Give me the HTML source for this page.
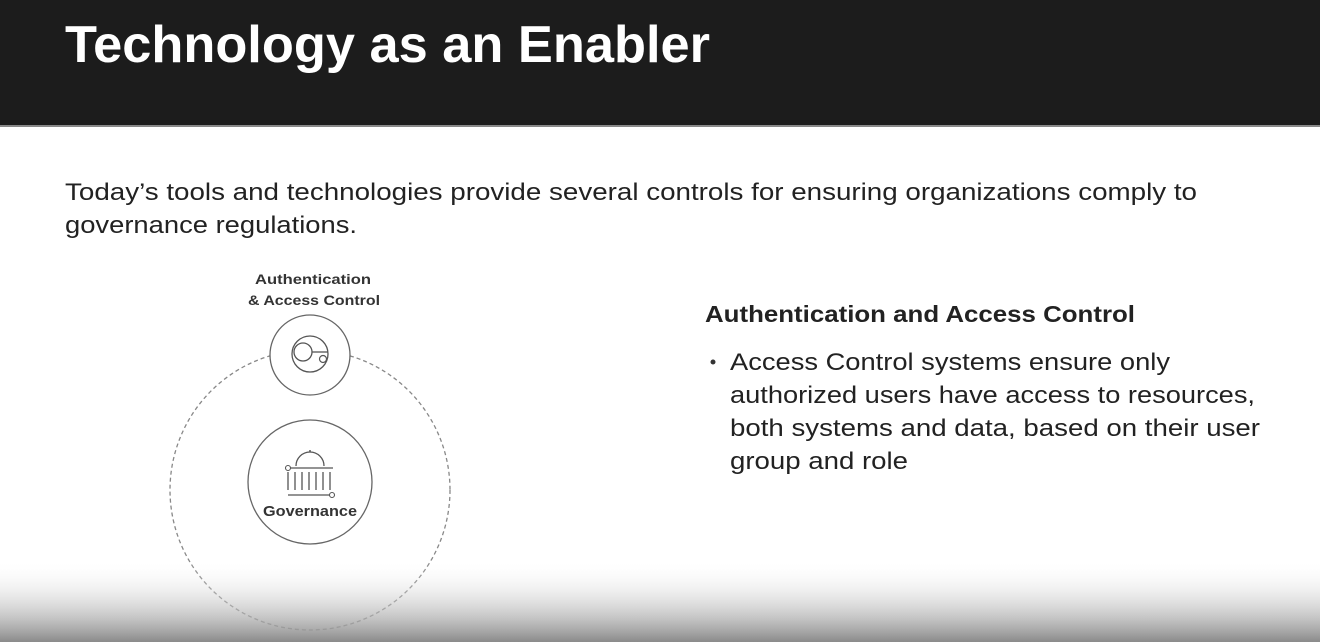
<!DOCTYPE html>
<html><head><style>
html,body{margin:0;padding:0;width:1320px;height:642px;overflow:hidden;background:#fff}
svg{display:block}
text{font-family:"Liberation Sans",sans-serif}
</style></head><body>
<svg width="1320" height="642" viewBox="0 0 1320 642" xmlns="http://www.w3.org/2000/svg">
<defs>
<linearGradient id="g" x1="0" y1="0" x2="0" y2="1">
<stop offset="0" stop-color="#fff" stop-opacity="0"/>
<stop offset="1" stop-color="#8a8a8a"/>
</linearGradient>
</defs>
<rect x="0" y="0" width="1320" height="125" fill="#1c1c1c"/>
<rect x="0" y="125" width="1320" height="2" fill="#888"/>
<text x="65" y="62" font-size="52" font-weight="bold" fill="#fff" textLength="645" lengthAdjust="spacingAndGlyphs">Technology as an Enabler</text>
<text x="65" y="200" font-size="24" fill="#222" textLength="1132" lengthAdjust="spacingAndGlyphs">Today’s tools and technologies provide several controls for ensuring organizations comply to</text>
<text x="65" y="233" font-size="24" fill="#222" textLength="292" lengthAdjust="spacingAndGlyphs">governance regulations.</text>

<circle cx="310" cy="490" r="140" fill="none" stroke="#888" stroke-width="1.3" stroke-dasharray="4,3"/>
<circle cx="310" cy="355" r="40" fill="#fff" stroke="#666" stroke-width="1.3"/>
<circle cx="310" cy="354" r="18" fill="none" stroke="#555" stroke-width="1.3"/>
<circle cx="303" cy="352" r="9" fill="none" stroke="#555" stroke-width="1.3"/>
<line x1="312" y1="352" x2="328" y2="352" stroke="#555" stroke-width="1.3"/>
<circle cx="323" cy="359" r="3.5" fill="#fff" stroke="#555" stroke-width="1.2"/>
<circle cx="310" cy="482" r="62" fill="#fff" stroke="#666" stroke-width="1.3"/>
<path d="M296 466 A14 14 0 0 1 324 466" fill="none" stroke="#555" stroke-width="1.3"/>
<line x1="310" y1="450" x2="310" y2="452" stroke="#555" stroke-width="1.5"/>
<line x1="289" y1="468" x2="333" y2="468" stroke="#555" stroke-width="1.3"/>
<circle cx="288" cy="468" r="2.5" fill="#fff" stroke="#555" stroke-width="1.1"/>
<g stroke="#555" stroke-width="1.3">
<line x1="288" y1="472" x2="288" y2="490"/><line x1="295" y1="472" x2="295" y2="490"/><line x1="302" y1="472" x2="302" y2="490"/><line x1="309" y1="472" x2="309" y2="490"/><line x1="316" y1="472" x2="316" y2="490"/><line x1="323" y1="472" x2="323" y2="490"/><line x1="330" y1="472" x2="330" y2="490"/>
<line x1="288" y1="495" x2="330" y2="495"/>
</g>
<circle cx="332" cy="495" r="2.5" fill="#fff" stroke="#555" stroke-width="1.1"/>
<text x="310" y="516" font-size="15" font-weight="bold" fill="#333" text-anchor="middle" textLength="94" lengthAdjust="spacingAndGlyphs">Governance</text>
<text x="313" y="284" font-size="14" font-weight="bold" fill="#333" text-anchor="middle" textLength="116" lengthAdjust="spacingAndGlyphs">Authentication</text>
<text x="314" y="305" font-size="14" font-weight="bold" fill="#333" text-anchor="middle" textLength="132" lengthAdjust="spacingAndGlyphs">&amp; Access Control</text>

<text x="705" y="322" font-size="23" font-weight="bold" fill="#222" textLength="430" lengthAdjust="spacingAndGlyphs">Authentication and Access Control</text>
<circle cx="713" cy="362" r="2.5" fill="#333"/>
<text x="730" y="370" font-size="24" fill="#222" textLength="440" lengthAdjust="spacingAndGlyphs">Access Control systems ensure only</text>
<text x="730" y="403" font-size="24" fill="#222" textLength="525" lengthAdjust="spacingAndGlyphs">authorized users have access to resources,</text>
<text x="730" y="436" font-size="24" fill="#222" textLength="530" lengthAdjust="spacingAndGlyphs">both systems and data, based on their user</text>
<text x="730" y="469" font-size="24" fill="#222" textLength="178" lengthAdjust="spacingAndGlyphs">group and role</text>

<rect x="0" y="560" width="1320" height="82" fill="url(#g)"/>
</svg>
</body></html>
